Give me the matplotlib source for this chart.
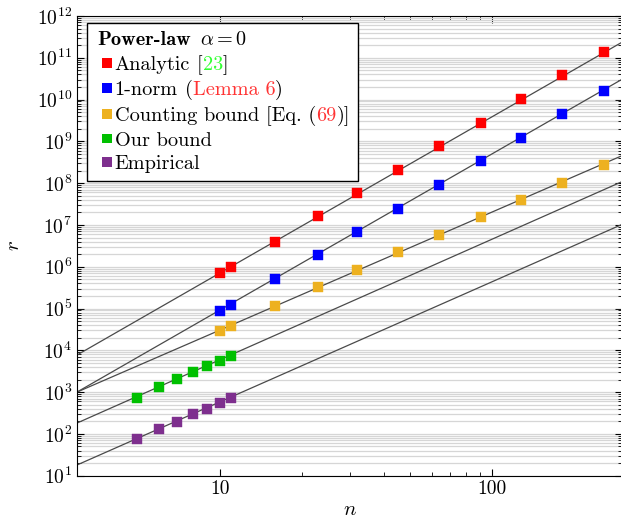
import numpy as np
import matplotlib
matplotlib.use("Agg")
import matplotlib.pyplot as plt
from matplotlib.offsetbox import TextArea, HPacker, VPacker, AnchoredOffsetbox, DrawingArea
from matplotlib.patches import Rectangle
from matplotlib.ticker import LogLocator, FixedLocator, NullFormatter

plt.rcParams['font.family'] = 'cmr10'
plt.rcParams['mathtext.fontset'] = 'cm'
plt.rcParams['axes.formatter.use_mathtext'] = True

# ---- data ----
n_big = [10, 11, 16, 23, 32, 45, 64, 91, 128, 181, 256]
r_analytic = [7.0e5, 1.0e6, 4.0e6, 1.64e7, 5.7e7, 2.07e8, 7.7e8, 2.8e9, 1.03e10, 3.8e10, 1.4e11]
r_onenorm = [8.7e4, 1.22e5, 5.0e5, 1.91e6, 6.8e6, 2.41e7, 9.0e7, 3.39e8, 1.22e9, 4.5e9, 1.63e10]
r_counting = [2.95e4, 3.9e4, 1.15e5, 3.33e5, 8.2e5, 2.21e6, 5.75e6, 1.55e7, 3.95e7, 1.03e8, 2.72e8]
n_small = [5, 6, 7, 8, 9, 10, 11]
r_ours = [736, 1350, 2020, 3080, 4200, 5650, 7430]
r_empirical = [74, 131, 196, 299, 401, 558, 723]

# power-law fits r = c * n^k
fit_c = [126.0, 16.4, 44.7, 7.6, 0.762]
fit_k = [3.745, 3.744, 2.83, 2.89, 2.88]

colors = ['#ff0000', '#0000ff', '#edb120', '#00c000', '#7e2f8e']

fig = plt.figure(figsize=(6.21, 5.23), dpi=100)
ax = fig.add_axes([77/621, 1-475.7/523, (622.3-77)/621, (475.7-16)/523])

ax.set_xscale('log')
ax.set_yscale('log')
ax.set_xlim(3, 300)
ax.set_ylim(1e1, 1e12)

nn = np.geomspace(3, 300, 50)
for c, k in zip(fit_c, fit_k):
    ax.plot(nn, c * nn**k, color='#4a4a4a', lw=0.9, zorder=2)

series = [(n_big, r_analytic), (n_big, r_onenorm), (n_big, r_counting),
          (n_small, r_ours), (n_small, r_empirical)]
for (x, y), col in zip(series, colors):
    ax.plot(x, y, ls='none', marker='s', ms=6.5, mfc=col, mec=col, mew=0.3, zorder=3)

# ticks
ax.xaxis.set_major_locator(FixedLocator([10, 100]))
ax.xaxis.set_minor_locator(FixedLocator([20, 30, 40, 50, 60, 70, 80, 90]))
ax.xaxis.set_minor_formatter(NullFormatter())
ax.set_xticklabels(['10', '100'])
ax.yaxis.set_major_locator(LogLocator(base=10, numticks=20))
ax.yaxis.set_minor_locator(LogLocator(base=10, subs=np.arange(2, 10), numticks=200))
ax.yaxis.set_minor_formatter(NullFormatter())
ax.tick_params(which='both', direction='in', top=True, right=True, labelsize=14)
ax.tick_params(which='major', length=5)
ax.tick_params(which='minor', length=3)
ax.grid(True, which='both', axis='y', color='#d6d6d6', lw=0.9, zorder=0)
ax.set_axisbelow(True)

ax.set_xlabel(r'$n$', fontsize=15, labelpad=2)
ax.set_ylabel(r'$r$', fontsize=15, labelpad=10)

# ---- legend ----
fs = 14.6
def ta(s, color='black', family='cmr10'):
    return TextArea(s, textprops=dict(color=color, fontsize=fs, family=family))

def marker(col):
    da = DrawingArea(11, 10, 0, 0)
    da.add_artist(Rectangle((3.5, 1.5), 7, 7, facecolor=col, edgecolor='none'))
    return da

def row(col, parts):
    return HPacker(children=[marker(col)] + parts, sep=1.5, pad=0, align='baseline')

def tight(parts):
    return HPacker(children=parts, sep=0, pad=0, align='baseline')

green_ref = '#33ff33'
red_ref = '#ff3333'
title = HPacker(children=[ta('Power-law', family='cmb10'), ta(r'$\alpha = 0$')], sep=6, pad=0, align='baseline')
rows = [
    title,
    row(colors[0], [HPacker(children=[ta('Analytic'), tight([ta('['), ta('23', green_ref), ta(']')])], sep=5, pad=0, align='baseline')]),
    row(colors[1], [HPacker(children=[ta('1-norm'), tight([ta('('), ta('Lemma 6', red_ref), ta(')')])], sep=5, pad=0, align='baseline')]),
    row(colors[2], [HPacker(children=[ta('Counting bound'), tight([ta('[Eq. ('), ta('69', red_ref), ta(')]')])], sep=5, pad=0, align='baseline')]),
    row(colors[3], [ta('Our bound')]),
    row(colors[4], [ta('Empirical')]),
]
vp = VPacker(children=rows, sep=4, pad=0, align='left')
content = HPacker(children=[DrawingArea(1.5, 1, 0, 0), vp], sep=0, pad=0, align='top')
box = AnchoredOffsetbox(loc='upper left', child=content, pad=0.6, borderpad=0,
                        bbox_to_anchor=((87-77)/545.3, (475.7-23)/459.7),
                        bbox_transform=ax.transAxes, frameon=True)
box.patch.set_edgecolor('black')
box.patch.set_linewidth(1.0)
box.patch.set_boxstyle('square', pad=0)
box.set_zorder(5)
ax.add_artist(box)

fig.savefig('out.png', dpi=100)
